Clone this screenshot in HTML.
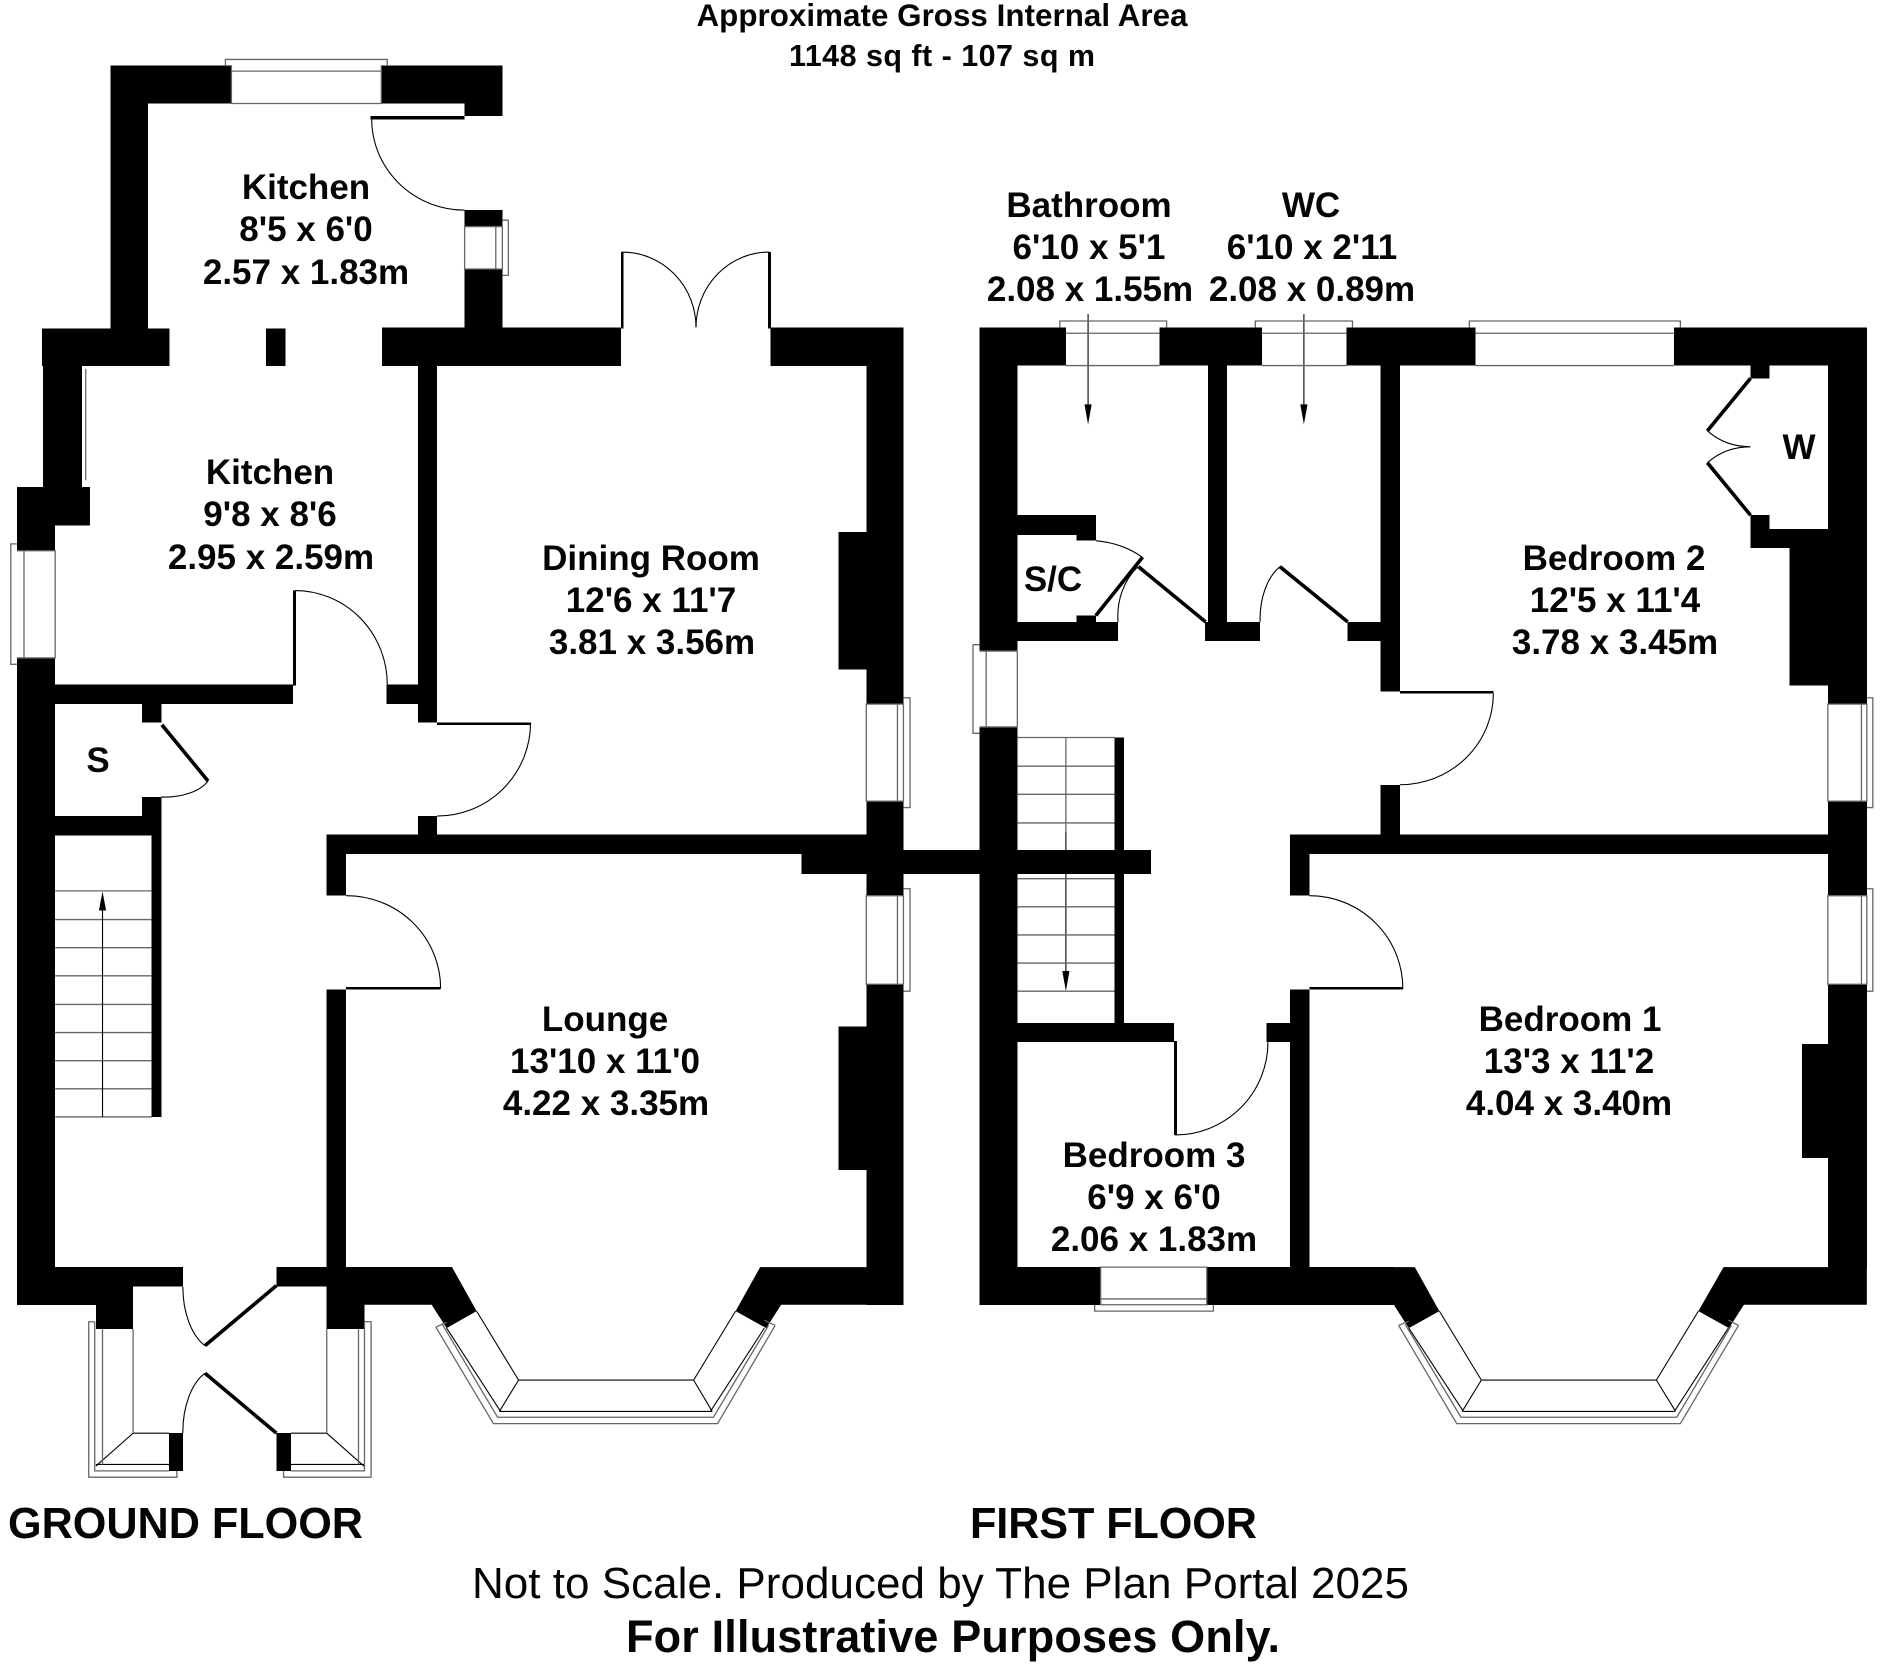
<!DOCTYPE html>
<html><head><meta charset="utf-8"><style>
html,body{margin:0;padding:0;background:#fff}
svg{display:block}
svg rect{shape-rendering:crispEdges}
.t{font-family:"Liberation Sans",sans-serif;font-weight:bold;font-size:35px;text-anchor:middle;fill:#050505}
.n{fill:none;stroke:#000;stroke-width:1.1;vector-effect:non-scaling-stroke}
.g{fill:none;stroke:#666;stroke-width:1.3;vector-effect:non-scaling-stroke}
.l{fill:none;stroke:#000;stroke-width:3.6;vector-effect:non-scaling-stroke}
</style></head><body>
<svg xmlns="http://www.w3.org/2000/svg" width="1880" height="1664" viewBox="0 0 1880 1664">
<rect width="1880" height="1664" fill="#fff"/>

<!-- TOP LEFT -->
<g transform="scale(0.5995,0.5306)">
<rect x="184" y="123" width="202" height="72"/><rect x="636" y="123" width="202" height="72"/><rect x="775" y="190" width="63" height="29"/>
<rect x="184" y="123" width="63" height="497"/>
<rect x="775" y="396" width="63" height="31"/><rect x="775" y="507" width="63" height="115"/>
<rect x="70" y="619" width="213" height="71"/><rect x="444" y="619" width="32" height="71"/><rect x="637" y="617" width="399" height="73"/><rect x="1285" y="617" width="222" height="73"/>
<rect x="72" y="619" width="65" height="302"/><rect x="28" y="918" width="122" height="72"/><rect x="28" y="985" width="64" height="53"/>
<rect x="28" y="1240" width="64" height="330"/>
<rect x="92" y="1290" width="397" height="37"/><rect x="645" y="1290" width="54" height="37"/>
<rect x="697" y="688" width="32" height="674"/><rect x="697" y="1538" width="32" height="32"/>
<rect x="237" y="1325" width="32" height="37"/><rect x="237" y="1502" width="32" height="68"/><rect x="90" y="1538" width="149" height="32"/>
<rect x="1445" y="688" width="62" height="639"/><rect x="1399" y="1003" width="48" height="259"/><rect x="1445" y="1510" width="62" height="60"/>
<rect x="618" y="219" width="157" height="6"/>
<rect x="1036" y="475" width="4" height="144"/><rect x="1281" y="475" width="5" height="144"/>
<rect x="489" y="1113" width="5" height="179"/><rect x="729" y="1362" width="157" height="4"/>
<path class="l" d="M270 1366L347 1472"/>
<path class="n" d="M620 224A155 172 0 0 0 775 396M1038 475A123 142 0 0 1 1161 617M1283 475A122 142 0 0 0 1161 617M492 1113A154 177 0 0 1 646 1290M885 1362A156 176 0 0 1 729 1538M347 1472A78 50 0 0 1 269 1502"/>
<path class="g" d="M376 123V112H646V123M386 123V195H636V123M386 134H636M775 427H838V507H775ZM838 415H848V519H838M827 427V507M143 695V905M18 1038V1025H28M18 1025V1252H28M28 1038H92V1240H28M40 1038V1240M1445 1327H1507V1510H1445ZM1507 1315H1518V1522H1507M1497 1327V1510"/>
</g>

<!-- TOP RIGHT -->
<g transform="translate(940,0) scale(0.5995,0.5306)">
<rect x="66" y="617" width="144" height="72"/><rect x="366" y="617" width="171" height="72"/><rect x="678" y="617" width="215" height="72"/><rect x="1224" y="617" width="322" height="72"/>
<rect x="66" y="617" width="63" height="610"/><rect x="66" y="1370" width="63" height="200"/>
<rect x="1481" y="617" width="65" height="710"/><rect x="1481" y="1510" width="65" height="60"/>
<rect x="1417" y="997" width="66" height="295"/><rect x="1352" y="997" width="131" height="36"/><rect x="1352" y="687" width="32" height="26"/><rect x="1352" y="971" width="32" height="30"/>
<rect x="447" y="687" width="32" height="487"/><rect x="443" y="1172" width="91" height="36"/><rect x="680" y="1172" width="57" height="36"/>
<rect x="735" y="687" width="32" height="616"/><rect x="735" y="1479" width="32" height="91"/>
<rect x="127" y="971" width="133" height="37"/><rect x="228" y="1005" width="32" height="14"/><rect x="228" y="1160" width="32" height="14"/><rect x="127" y="1172" width="170" height="36"/>
<rect x="291" y="1390" width="16" height="180"/><rect x="767" y="1302" width="156" height="5"/>
<path class="l" d="M260 1160L338 1050M331 1068L443 1172M567 1068L680 1172M1352 713L1280 812M1280 872L1352 971"/>
<path class="n" d="M260 1019A130 100 0 0 1 337 1050M330 1068A90 120 0 0 0 297 1172M443 1172V1208M567 1068A60 110 0 0 0 534 1172M923 1307A156 172 0 0 1 767 1479M1280 812Q1310 842 1352 842Q1310 842 1280 872"/>
<path d="M241 762H253L247 800ZM601 762H613L607 800Z"/>
<path class="n" d="M247 592V770M607 592V770"/>
<path class="g" d="M200 617V605H378V617M210 689H366M210 628H366M526 617V605H688V617M537 689H678M537 628H678M883 617V605H1235V617M893 628H1224M55 1215H66M55 1215V1382H66M129 1227V1370M77 1227V1370M66 1227H129M66 1370H129M1481 1327H1546V1510H1481ZM1546 1315H1556V1522H1546M1537 1327V1510M129 1390H291M129 1444H291M129 1497H291M129 1551H291M210 1390V1568M893 689H1224"/>
</g>

<!-- BOTTOM LEFT -->
<g transform="translate(0,832) scale(0.5995,0.5306)">
<rect x="28" y="-2" width="64" height="893"/><rect x="28" y="820" width="277" height="37"/><rect x="28" y="855" width="132" height="36"/><rect x="160" y="855" width="62" height="82"/>
<rect x="90" y="-2" width="179" height="9"/><rect x="253" y="-2" width="16" height="539"/>
<rect x="697" y="-2" width="32" height="8"/><rect x="545" y="5" width="962" height="36"/><rect x="545" y="5" width="32" height="115"/><rect x="577" y="292" width="158" height="5"/><rect x="545" y="297" width="32" height="525"/>
<rect x="1337" y="39" width="110" height="40"/><rect x="1445" y="-2" width="62" height="122"/><rect x="1505" y="34" width="63" height="45"/>
<rect x="1445" y="287" width="62" height="604"/><rect x="1399" y="367" width="48" height="270"/>
<rect x="461" y="820" width="293" height="37"/><rect x="545" y="855" width="63" height="82"/>
<polygon points="600,820 754,820 795,903 745,935 720,891 600,891"/>
<polygon points="1268,820 1507,820 1507,891 1303,891 1278,935 1227,903"/>
<rect x="282" y="1133" width="23" height="71"/><rect x="461" y="1133" width="24" height="71"/>
<path class="l" d="M461 855L342 968M342 1020L461 1133"/>
<path class="n" d="M305 857A60 120 0 0 0 342 968M342 1020A60 120 0 0 0 305 1133M577 120A157 175 0 0 1 735 295M222 1133L160 1195M545 1133L608 1196M222 1133H282M485 1133H545M160 1192H282M485 1192H608M795 903L865 1033H1157L1227 903M865 1033L833 1092M1157 1033L1188 1092M833 1092H1188M745 935L835 1092M1275 935L1185 1092"/>
<path class="g" d="M158 923H148V1216H295V1204M158 923V1204H282M171 937V1192M222 937V1133M608 923H619V1216H473V1204M608 923V1204H485M598 937V1192M545 937V1133M727 933L823 1115H1197L1293 930M738 928L830 1103H1190L1282 930M727 933L745 924M1293 930L1275 920M1445 120H1507V287H1445ZM1507 107H1518V300H1507M1497 120V287M92 111H253M92 165H253M92 218H253M92 271H253M92 325H253M92 378H253M92 431H253M92 484H253M92 537H253"/>
<path class="n" d="M171 148V537"/>
<path d="M165 148H177L171 112Z"/>
</g>

<!-- BOTTOM RIGHT -->
<g transform="translate(940,832) scale(0.5995,0.5306)">
<rect x="66" y="-2" width="63" height="893"/><rect x="-2" y="34" width="354" height="45"/><rect x="291" y="-2" width="16" height="362"/><rect x="127" y="360" width="263" height="36"/>
<rect x="390" y="394" width="5" height="177"/><rect x="545" y="360" width="41" height="36"/><rect x="584" y="297" width="32" height="525"/>
<rect x="735" y="-2" width="32" height="8"/><rect x="584" y="5" width="962" height="36"/><rect x="584" y="5" width="32" height="115"/><rect x="616" y="292" width="156" height="5"/>
<rect x="66" y="820" width="202" height="71"/><rect x="445" y="820" width="312" height="71"/>
<polygon points="700,820 792,820 833,903 782,935 757,891 700,891"/>
<polygon points="1307,820 1546,820 1546,891 1341,891 1316,935 1265,903"/>
<rect x="1481" y="-2" width="65" height="122"/><rect x="1481" y="287" width="65" height="535"/><rect x="1438" y="400" width="45" height="214"/>
<path class="n" d="M392 571A155 175 0 0 0 547 396M616 120A156 175 0 0 1 772 295M833 903L903 1033H1195L1265 903M903 1033L871 1092M1195 1033L1227 1092M873 1092H1225M782 935L873 1092M1315 935L1225 1092M210 0V265"/>
<path d="M204 262H216L210 300Z"/>
<path class="g" d="M765 930L862 1115H1235L1332 930M776 928L869 1103H1229L1320 930M765 930L782 922M1332 930L1315 920M129 88H291M129 141H291M129 194H291M129 247H291M129 300H291M268 820H445V891H268ZM268 880H445M258 891V903H456V891M1481 120H1546V287H1481ZM1546 107H1556V300H1546M1537 120V287"/>
</g>

<!-- TEXT -->
<text class="t" x="942" y="26" style="font-size:31.3px" textLength="491" lengthAdjust="spacing">Approximate Gross Internal Area</text>
<text class="t" x="942" y="66" style="font-size:30.5px" textLength="306" lengthAdjust="spacing">1148 sq ft - 107 sq m</text>

<text class="t" x="306" y="199">Kitchen</text><text class="t" x="306" y="241">8'5 x 6'0</text><text class="t" x="306" y="284">2.57 x 1.83m</text>
<text class="t" x="270" y="484">Kitchen</text><text class="t" x="270" y="526">9'8 x 8'6</text><text class="t" x="271" y="569">2.95 x 2.59m</text>
<text class="t" x="651" y="570">Dining Room</text><text class="t" x="651" y="612">12'6 x 11'7</text><text class="t" x="652" y="654">3.81 x 3.56m</text>
<text class="t" x="605" y="1031">Lounge</text><text class="t" x="605" y="1073">13'10 x 11'0</text><text class="t" x="606" y="1115">4.22 x 3.35m</text>
<text class="t" x="1089" y="217">Bathroom</text><text class="t" x="1089" y="259">6'10 x 5'1</text><text class="t" x="1090" y="301">2.08 x 1.55m</text>
<text class="t" x="1311" y="217">WC</text><text class="t" x="1312" y="259">6'10 x 2'11</text><text class="t" x="1312" y="301">2.08 x 0.89m</text>
<text class="t" x="1614" y="570">Bedroom 2</text><text class="t" x="1615" y="612">12'5 x 11'4</text><text class="t" x="1615" y="654">3.78 x 3.45m</text>
<text class="t" x="1570" y="1031">Bedroom 1</text><text class="t" x="1569" y="1073">13'3 x 11'2</text><text class="t" x="1569" y="1115">4.04 x 3.40m</text>
<text class="t" x="1154" y="1167">Bedroom 3</text><text class="t" x="1154" y="1209">6'9 x 6'0</text><text class="t" x="1154" y="1251">2.06 x 1.83m</text>
<text class="t" x="98" y="772">S</text><text class="t" x="1799" y="459">W</text><text class="t" x="1053" y="591">S/C</text>

<text class="t" x="8" y="1538" style="font-size:43.2px;text-anchor:start" textLength="355" lengthAdjust="spacing">GROUND FLOOR</text>
<text class="t" x="970" y="1538" style="font-size:43.2px;text-anchor:start" textLength="287" lengthAdjust="spacing">FIRST FLOOR</text>
<text x="472" y="1598" style="font-family:'Liberation Sans',sans-serif;font-size:44px;fill:#050505" textLength="937" lengthAdjust="spacing">Not to Scale. Produced by The Plan Portal 2025</text>
<text class="t" x="626" y="1652" style="font-size:45px;text-anchor:start" textLength="654" lengthAdjust="spacing">For Illustrative Purposes Only.</text>
</svg>
</body></html>
